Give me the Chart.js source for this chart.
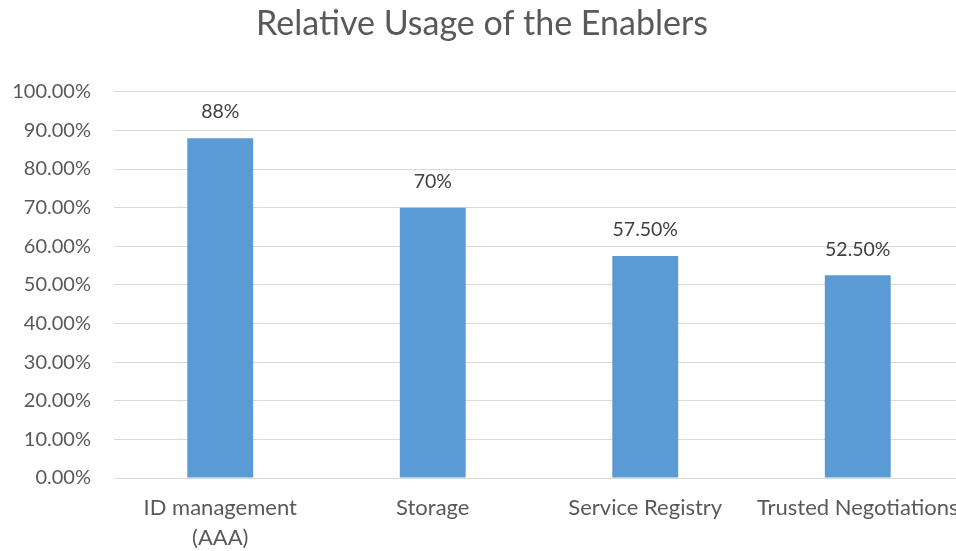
<!DOCTYPE html>
<html>
<head>
<meta charset="utf-8">
<script src="https://cdn.jsdelivr.net/npm/chart.js@4/dist/chart.umd.min.js"></script>
<style>
  html, body { margin: 0; padding: 0; background: #fff; overflow: hidden; }
  #wrap { width: 970px; height: 551px; }
</style>
</head>
<body>
<div id="wrap"><canvas id="usageChart"></canvas></div>
<script>
const categories = [['ID management', '(AAA)'], 'Storage', 'Service Registry', 'Trusted Negotiations'];
const usage = [88, 70, 57.5, 52.5];
const valueLabels = ['88%', '70%', '57.50%', '52.50%'];

const FONT = 'Lato, "Open Sans", sans-serif';

// writes the value above every bar
const barLabels = {
    id: 'barLabels',
    afterDatasetsDraw(chart) {
        const ctx = chart.ctx;
        const meta = chart.getDatasetMeta(0);
        ctx.save();
        ctx.font = '19.5px ' + FONT;
        ctx.fillStyle = '#404040';
        ctx.textAlign = 'center';
        ctx.textBaseline = 'middle';
        meta.data.forEach((bar, i) => {
            ctx.fillText(valueLabels[i], bar.x, bar.y - 26);
        });
        ctx.restore();
    },
};

new Chart(document.getElementById('usageChart'), {
    type: 'bar',
    data: {
        labels: categories,
        datasets: [
            {
                data: usage,
                backgroundColor: '#5b9bd5',
                categoryPercentage: 1,
                barPercentage: 0.31,
            },
        ],
    },
    options: {
        responsive: true,
        maintainAspectRatio: false,
        animation: false,
        layout: { padding: { top: 4, bottom: 0, left: 0, right: 6 } },
        plugins: {
            legend: { display: false },
            tooltip: { enabled: false },
            title: {
                display: true,
                text: 'Relative Usage of the Enablers',
                color: '#595959',
                font: { family: FONT, size: 34, weight: 'normal' },
                padding: { top: 0, bottom: 47 },
            },
        },
        scales: {
            x: {
                grid: { display: false, drawTicks: false },
                border: { color: '#d9d9d9' },
                ticks: {
                    color: '#595959',
                    font: { family: FONT, size: 22, lineHeight: 1.364 },
                    padding: 15,
                    maxRotation: 0,
                    autoSkip: false,
                },
                afterFit(scale) {
                    scale.height = 73;
                    scale.paddingRight = 0;
                },
            },
            y: {
                min: 0,
                max: 100,
                grid: { color: '#d9d9d9', drawTicks: false },
                border: { display: false },
                ticks: {
                    stepSize: 10,
                    color: '#595959',
                    padding: 23,
                    font: { family: FONT, size: 20 },
                    callback: v => v.toFixed(2) + '%',
                },
                afterFit(scale) { scale.width = 114; },
            },
        },
    },
    plugins: [barLabels],
});
</script>
</body>
</html>
